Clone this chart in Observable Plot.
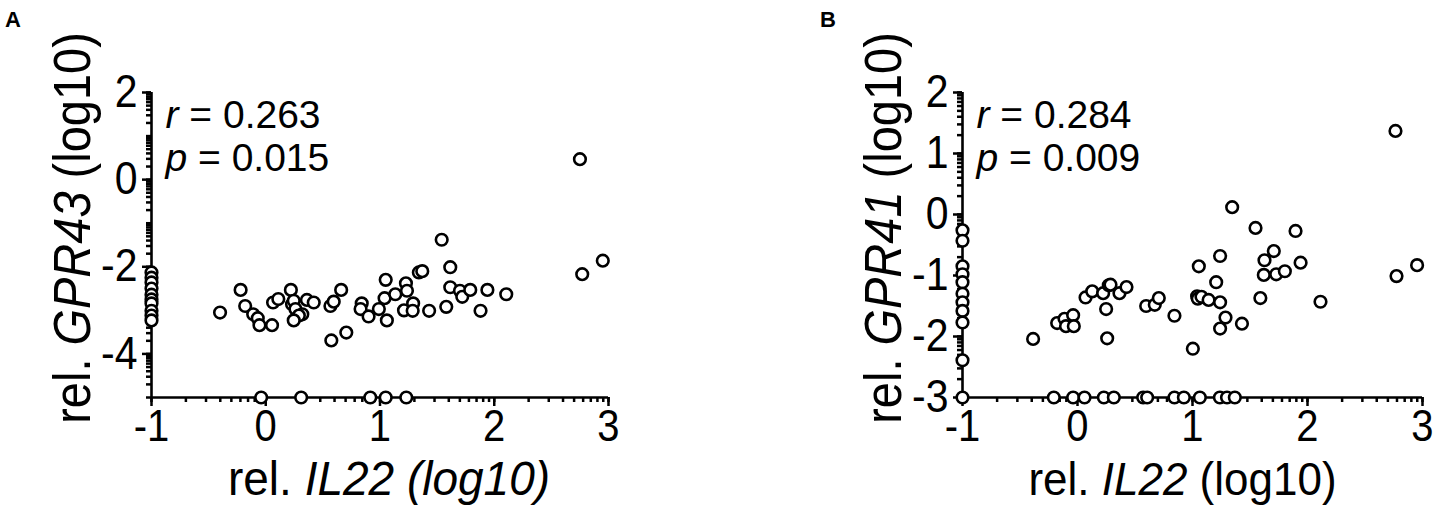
<!DOCTYPE html>
<html><head><meta charset="utf-8">
<script src="https://cdn.jsdelivr.net/npm/d3@7"></script>
<script src="https://cdn.jsdelivr.net/npm/@observablehq/plot@0.6"></script>
<style>
body{margin:0;background:#fff;}
#wrap{position:relative;width:1433px;height:527px;font-family:"Liberation Sans",Arial,sans-serif;background:#fff;}
.panel{position:absolute;top:0;}
.tag{position:absolute;font-weight:bold;font-size:22px;line-height:22px;}
</style></head><body>
<div id="wrap">
  <div id="pa" class="panel" style="left:0px"></div>
  <div id="pb" class="panel" style="left:716px"></div>
  <div class="tag" style="left:5px;top:9px">A</div>
  <div class="tag" style="left:820px;top:9px">B</div>
</div>
<script>
// ---------- Panel A data: rel. IL22 (log10) vs rel. GPR43 (log10)
const il22A = [
  -1,-1,-1,-1,-1,-1,-1,-1,-1,-1,
  -0.40,-0.22,-0.18,-0.11,-0.07,-0.055,0.055,0.064,0.11,0.22,0.23,0.245,0.26,0.32,0.29,0.245,
  0.36,0.42,0.566,0.595,0.66,0.574,0.705,0.84,0.83,0.90,0.99,1.05,1.04,1.06,
  1.134,1.227,1.236,1.29,1.21,1.286,1.34,1.37,1.43,1.54,1.615,1.615,1.58,1.70,1.72,1.79,1.94,1.88,2.105,
  2.77,2.95,2.75,
  -0.04,0.31,0.915,1.05,1.23
];
const gpr43A = [
  -2.13,-2.25,-2.36,-2.50,-2.64,-2.75,-2.84,-3.01,-3.12,-3.23,
  -3.05,-2.53,-2.90,-3.09,-3.18,-3.34,-3.34,-2.82,-2.74,-2.53,-2.86,-2.78,-2.97,-3.09,-3.12,-3.23,
  -2.76,-2.82,-2.90,-2.80,-2.53,-3.69,-3.51,-2.84,-2.97,-3.14,-2.97,-2.30,-2.72,-3.23,
  -2.63,-2.38,-2.55,-2.84,-3.00,-3.01,-2.13,-2.10,-3.01,-1.38,-2.01,-2.47,-2.92,-2.55,-2.69,-2.53,-2.53,-3.01,-2.63,
  -2.17,-1.86,0.47,
  -5,-5,-5,-5,-5
];
// ---------- Panel B data: rel. IL22 (log10) vs rel. GPR41 (log10)
const il22B = [
  -1,-1,-1,-1,-1,-1,-1,-1,-1,-1,-1,
  -0.386,-0.177,-0.113,-0.10,-0.038,-0.032,0.07,0.128,0.223,0.272,0.287,0.249,0.258,0.365,0.426,
  0.597,0.672,0.707,0.843,1.003,1.055,1.04,1.046,1.078,1.14,1.206,1.24,1.24,1.287,1.24,1.345,1.43,
  1.548,1.59,1.626,1.62,1.707,1.728,1.803,1.896,1.94,2.113,2.765,2.774,2.953,
  -0.206,-0.038,0.061,0.229,0.316,0.571,0.606,0.843,0.925,1.064,1.238,1.30,1.368
];
const gpr41B = [
  -0.26,-0.43,-0.85,-0.98,-1.11,-1.30,-1.44,-1.58,-1.77,-2.39,-3.0,
  -2.04,-1.78,-1.71,-1.83,-1.65,-1.83,-1.36,-1.26,-1.29,-1.16,-1.15,-1.55,-2.03,-1.29,-1.19,
  -1.50,-1.48,-1.37,-1.66,-2.20,-0.85,-1.34,-1.38,-1.35,-1.40,-1.11,-0.68,-1.44,-1.69,-1.87,0.12,-1.79,
  -0.22,-1.37,-0.75,-0.99,-0.60,-0.98,-0.93,-0.27,-0.79,-1.43,1.37,-1.01,-0.83,
  -3,-3,-3,-3,-3,-3,-3,-3,-3,-3,-3,-3,-3
];
// ---------- ticks and texts
const xTicks = [-1, 0, 1, 2, 3];
const yTicksA = [2, 0, -2, -4];
const yTicksB = [2, 1, 0, -1, -2, -3];
const statsA = ["r = 0.263", "p = 0.015"];
const statsB = ["r = 0.284", "p = 0.009"];

const FONT = '"Liberation Sans", Arial, sans-serif';
const TALL_TICK = 1.12;   // glyphs in the reference are a little taller than Arial
const TALL_XTITLE = 1.04;
const TALL_YTITLE = 1.12;

function logMinor(lo, hi) {
  const t = [];
  for (let d = lo; d < hi; d++) {
    t.push(d);
    for (let k = 2; k <= 9; k++) t.push(d + Math.log10(k));
  }
  t.push(hi);
  return t;
}

function stretch(el, k) {
  const tr = el.getAttribute("transform");
  if (tr) el.setAttribute("transform", tr + ` scale(1,${k})`);
  else {
    const x = +el.getAttribute("x") || 0, y = +el.getAttribute("y") || 0;
    el.setAttribute("x", 0); el.setAttribute("y", 0);
    el.setAttribute("transform", `translate(${x},${y}) scale(1,${k})`);
  }
}

function rich(svg, full, parts, k) {
  d3.select(svg).selectAll("text").filter(function () { return this.textContent === full; })
    .each(function () {
      const t = d3.select(this);
      t.text(null);
      for (const [s, it] of parts) t.append("tspan").attr("font-style", it ? "italic" : "normal").text(s);
      if (k) stretch(this, k);
    });
}

function panel(cfg) {
  const data = cfg.xs.map((x, i) => ({x, y: cfg.ys[i]}));
  const svg = Plot.plot({
    width: cfg.width, height: 527,
    marginLeft: cfg.marginLeft, marginRight: cfg.marginRight, marginTop: 92, marginBottom: 130,
    x: {domain: [-1, 3]},
    y: {domain: cfg.yDomain},
    style: {fontFamily: FONT, background: "white", color: "black", overflow: "visible"},
    marks: [
      Plot.axisX(logMinor(-1, 3), {tickSize: 5, tickFormat: () => "", strokeWidth: 2.5, label: null}),
      Plot.axisX(xTicks, {tickSize: 9, tickPadding: 3, fontSize: 40, tickFormat: d => String(d), strokeWidth: 2.5, label: null}),
      Plot.axisY(logMinor(cfg.yDomain[0], cfg.yDomain[1]), {tickSize: 5, tickFormat: () => "", strokeWidth: 2.5, label: null}),
      Plot.axisY(cfg.yTicks, {tickSize: 9, tickPadding: 5, fontSize: 41, tickFormat: d => String(d), strokeWidth: 2.5, label: null}),
      Plot.ruleY([cfg.yDomain[0]], {strokeWidth: 2.6}),
      Plot.ruleX([-1], {strokeWidth: 2.6}),
      Plot.dot(data, {x: "x", y: "y", r: 5.8, stroke: "black", strokeWidth: 2.6, fill: "white"}),
      Plot.text([cfg.stats[0]], {frameAnchor: "top-left", textAnchor: "start", dx: 14, dy: 8, fontSize: 39}),
      Plot.text([cfg.stats[1]], {frameAnchor: "top-left", textAnchor: "start", dx: 14, dy: 51, fontSize: 39}),
      Plot.text([cfg.xTitle], {frameAnchor: "bottom", textAnchor: "middle", lineAnchor: "bottom", dx: cfg.xTitleDx, dy: 97, fontSize: cfg.xTitleSize}),
      Plot.text([cfg.yTitle], {frameAnchor: "left", textAnchor: "middle", lineAnchor: "bottom", rotate: -90, dx: -62, dy: -17, fontSize: 47})
    ]
  });
  d3.select(svg).selectAll("text").each(function () {
    if (/^-?\d$/.test(this.textContent)) stretch(this, TALL_TICK);
  });
  rich(svg, cfg.stats[0], [["r", true], [cfg.stats[0].slice(1), false]]);
  rich(svg, cfg.stats[1], [["p", true], [cfg.stats[1].slice(1), false]]);
  rich(svg, cfg.xTitle, cfg.xParts, TALL_XTITLE);
  rich(svg, cfg.yTitle, cfg.yParts, TALL_YTITLE);
  return svg;
}

document.getElementById("pa").appendChild(panel({
  xs: il22A, ys: gpr43A, yDomain: [-5, 2], yTicks: yTicksA, stats: statsA,
  width: 716, marginLeft: 151, marginRight: 108, xTitleDx: 9, xTitleSize: 46,
  xTitle: "rel. IL22 (log10)", xParts: [["rel. ", false], ["IL22 (log10)", true]],
  yTitle: "rel. GPR43 (log10)", yParts: [["rel. ", false], ["GPR43", true], [" (log10)", false]]
}));
document.getElementById("pb").appendChild(panel({
  xs: il22B, ys: gpr41B, yDomain: [-3, 2], yTicks: yTicksB, stats: statsB,
  width: 717, marginLeft: 246, marginRight: 11, xTitleDx: -10, xTitleSize: 44,
  xTitle: "rel. IL22 (log10)", xParts: [["rel. ", false], ["IL22", true], [" (log10)", false]],
  yTitle: "rel. GPR41 (log10)", yParts: [["rel. ", false], ["GPR41", true], [" (log10)", false]]
}));
</script>
</body></html>
